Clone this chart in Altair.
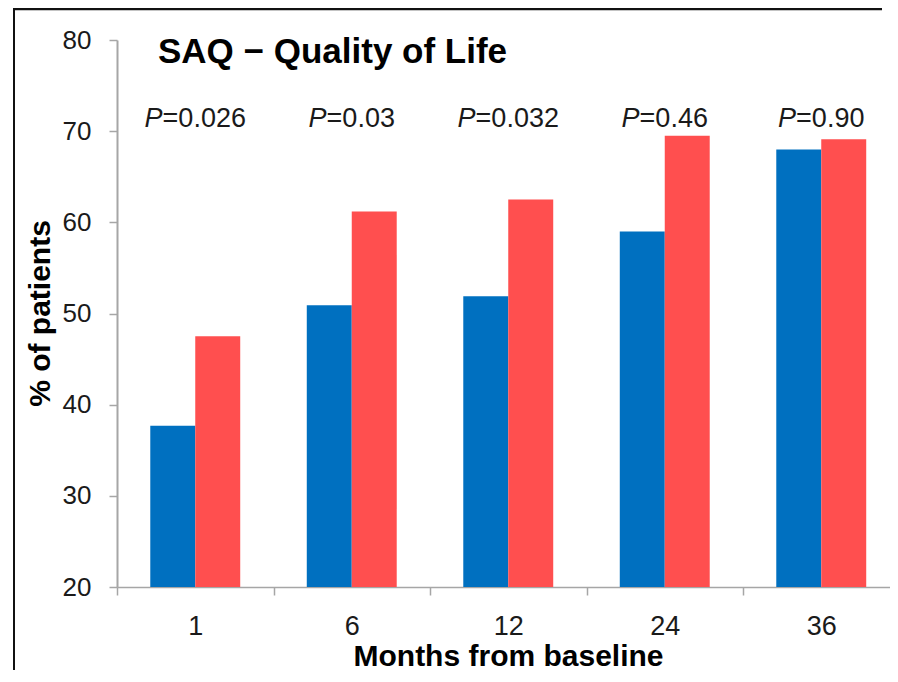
import altair as alt
import pandas as pd

months = ["1", "6", "12", "24", "36"]
group_a = [37.7, 50.9, 51.9, 59.0, 68.0]
group_b = [47.5, 61.2, 62.5, 69.5, 69.1]
p_values = ["0.026", "0.03", "0.032", "0.46", "0.90"]
series = ["Group A", "Group B"]
colors = ["#0070C0", "#FF4F4F"]
y_ticks = [20, 30, 40, 50, 60, 70, 80]
title_text = "SAQ \u2212 Quality of Life"

rows = []
for i, m in enumerate(months):
    rows.append({"month": m, "series": series[0], "pct": group_a[i]})
    rows.append({"month": m, "series": series[1], "pct": group_b[i]})
bars_df = pd.DataFrame(rows)
p_df = pd.DataFrame({"month": months, "rest": ["=" + p for p in p_values]})

FONT = "Liberation Sans"
PFS = 27

x_enc = alt.X(
    "month:N",
    sort=months,
    scale=alt.Scale(paddingInner=0, paddingOuter=0, range=[0, 782.5]),
    axis=alt.Axis(
        title="Months from baseline",
        tickBand="extent",
        labelAngle=0,
        labelFontSize=27,
        labelPadding=18,
        tickSize=8,
        titleFontSize=30,
        titleFontWeight="bold",
        titleBaseline="alphabetic",
        titleX=391,
        titleY=78,
    ),
)

bars = (
    alt.Chart(bars_df)
    .mark_bar()
    .encode(
        x=x_enc,
        xOffset=alt.XOffset(
            "series:N",
            sort=series,
            scale=alt.Scale(paddingInner=0, paddingOuter=0.74),
        ),
        y=alt.Y(
            "pct:Q",
            scale=alt.Scale(domain=[20, 80], zero=False, nice=False, clamp=True),
            axis=alt.Axis(
                values=y_ticks,
                title="% of patients",
                labelFontSize=26,
                labelPadding=18,
                tickSize=8,
                titleFontSize=30,
                titleFontWeight="bold",
                titleAngle=-90,
                titleBaseline="alphabetic",
                titleAlign="center",
                titleX=-68,
                titleY=273,
                domainWidth=2,
            ),
        ),
        y2=alt.datum(20),
        color=alt.Color(
            "series:N",
            sort=series,
            scale=alt.Scale(domain=series, range=colors),
            legend=None,
        ),
    )
)

p_base = alt.Chart(p_df).transform_calculate(
    wrest=f"({PFS}) * (0.584 + 0.278 + 0.556 * (length(datum.rest) - 2))",
    wp=f"{PFS} * 0.667",
).transform_calculate(
    pdx="-(datum.wp + datum.wrest) / 2 + datum.wp"
)

p_italic = p_base.mark_text(
    text="P",
    font=FONT,
    fontSize=PFS,
    fontStyle="italic",
    align="right",
    baseline="alphabetic",
    color="#1a1a1a",
    dx={"expr": "datum.pdx"},
).encode(x=alt.X("month:N", sort=months), y=alt.value(87))

p_rest = p_base.mark_text(
    font=FONT,
    fontSize=PFS,
    align="left",
    baseline="alphabetic",
    color="#1a1a1a",
    dx={"expr": "datum.pdx"},
).encode(x=alt.X("month:N", sort=months), y=alt.value(87), text="rest:N")

title_mark = alt.Chart(alt.Data(values=[{"t": title_text}])).mark_text(
    font=FONT,
    fontSize=35,
    fontWeight="bold",
    align="left",
    baseline="alphabetic",
    color="#000000",
).encode(x=alt.value(41), y=alt.value(23), text="t:N")

frame_top = alt.Chart(alt.Data(values=[{"f": 1}])).mark_rule(
    stroke="#111111", strokeWidth=2.5
).encode(x=alt.value(-104), x2=alt.value(765), y=alt.value(-31))

frame_left = alt.Chart(alt.Data(values=[{"f": 1}])).mark_rule(
    stroke="#111111", strokeWidth=2
).encode(x=alt.value(-103), y=alt.value(-32), y2=alt.value(700))

chart = (
    alt.layer(bars, p_italic, p_rest, title_mark, frame_top, frame_left)
    .properties(
        width=773,
        height=547,
        autosize=alt.AutoSizeParams(type="none"),
        padding={"left": 109, "top": 32, "right": 0, "bottom": 83},
        background="#ffffff",
    )
    .configure_view(stroke=None)
    .configure_axis(
        labelFont=FONT,
        titleFont=FONT,
        labelColor="#1a1a1a",
        titleColor="#000000",
        domainColor="#a6a6a6",
        tickColor="#a6a6a6",
        domainWidth=1.5,
        tickWidth=1.5,
        grid=False,
    )
)

chart.save("out.html", embed_options={"renderer": "svg", "actions": False})
